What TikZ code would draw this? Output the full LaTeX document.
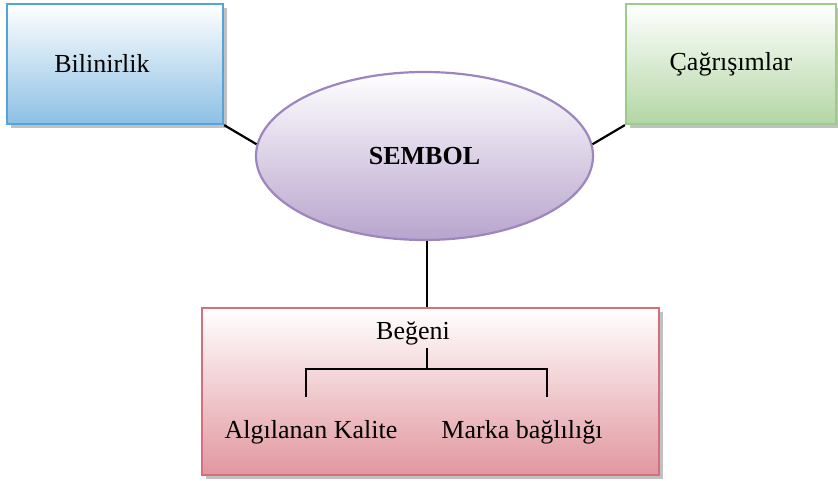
\documentclass[tikz,border=0pt]{standalone}
\usepackage{fontspec}
\setmainfont{Liberation Serif}
\usetikzlibrary{shapes.geometric,shadows,positioning}

\definecolor{blueline}{HTML}{55A3D8}
\definecolor{bluefill}{HTML}{8CC0E4}
\definecolor{greenline}{HTML}{9DCB8B}
\definecolor{greenfill}{HTML}{B3D6A5}
\definecolor{violetline}{HTML}{9B86C0}
\definecolor{violetfill}{HTML}{B8A4CD}
\definecolor{redline}{HTML}{D66E7C}
\definecolor{redfill}{HTML}{E1979F}

\begin{document}
\begin{tikzpicture}[x=1pt, y=-1pt,
    every node/.style={font=\fontsize{26}{30}\selectfont},
    box/.style={draw, line width=2.2pt, inner sep=0pt,
        drop shadow={shadow xshift=3.5pt, shadow yshift=-4pt, opacity=0.35, fill=black!70}},
    conn/.style={line width=2.2pt, black}
]
\useasboundingbox (0,0) rectangle (838,481);

\node[box, draw=blueline, top color=white, bottom color=bluefill,
      minimum width=216pt, minimum height=120pt] (bil) at (115,64) {\hspace*{-26pt}Bilinirlik};
\node[box, draw=greenline, top color=white, bottom color=greenfill,
      minimum width=210pt, minimum height=120pt] (cag) at (731,64) {Çağrışımlar};
\node[ellipse, draw=violetline, line width=2.2pt, top color=white, bottom color=violetfill,
      minimum width=337pt, minimum height=168pt, inner sep=0pt] (sem) at (424.5,156) {\textbf{SEMBOL}};
\node[box, draw=redline, top color=white, bottom color=redfill,
      minimum width=457pt, minimum height=167pt] (beg box) at (430.5,391.5) {};

\node (beg) at (413,333) {Beğeni};
\node (kal) at (311,432) {Algılanan Kalite};
\node (mar) at (522,432) {Marka bağlılığı};
\coordinate (fork) at (427,369);
\coordinate (lt) at (306,397);
\coordinate (rt) at (547,397);

\draw[conn] (bil.south east) -- (sem.176);
\draw[conn] (cag.south west) -- (sem.4);
\draw[conn] (sem.south -| fork) -- (beg box.north -| fork);
\draw[conn] (beg.south -| fork) -- (fork);
\draw[conn] (lt) |- (fork) -| (rt);
\end{tikzpicture}
\end{document}
